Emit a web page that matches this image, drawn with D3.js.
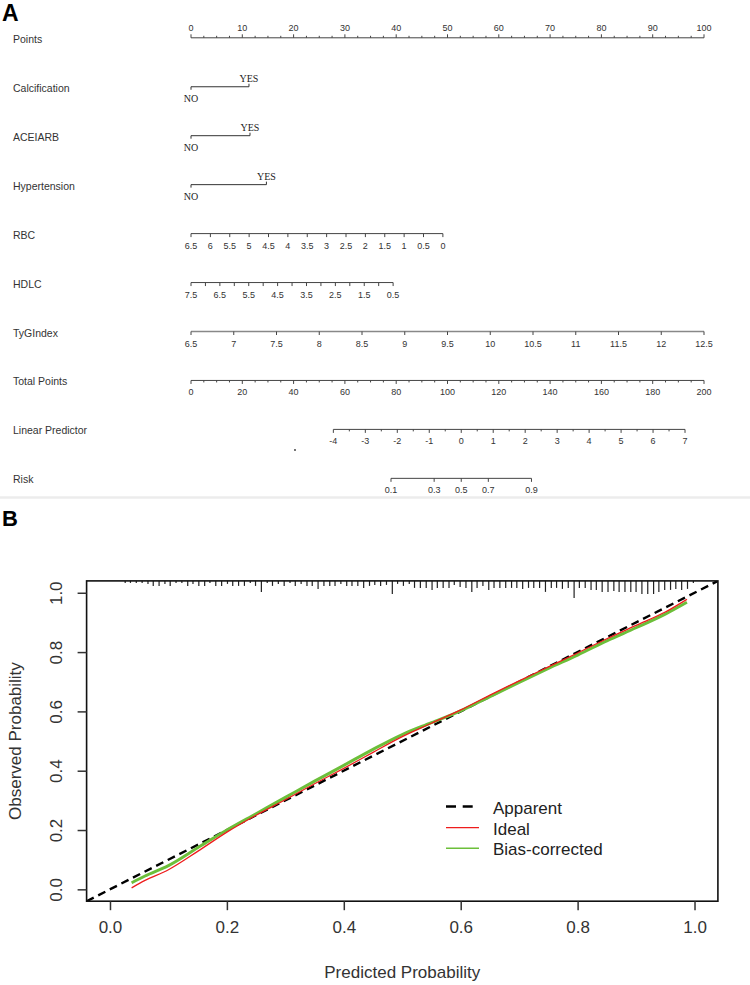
<!DOCTYPE html>
<html><head><meta charset="utf-8">
<script src="https://cdn.jsdelivr.net/npm/d3@7"></script>
<style>body{margin:0;background:#fff;} svg{display:block;font-family:"Liberation Sans",Arial,sans-serif;}</style>
</head><body><svg id="c" width="750" height="985"></svg>
<script>
// ---------------- DATA: Panel A (nomogram) ----------------
const rowNames = ["Points","Calcification","ACEIARB","Hypertension","RBC","HDLC","TyGIndex","Total Points","Linear Predictor","Risk"];
const pointsTicks = [0,10,20,30,40,50,60,70,80,90,100];
const pointsMinorTicks = [2.5,5,7.5,12.5,15,17.5,22.5,25,27.5,32.5,35,37.5,42.5,45,47.5,52.5,55,57.5,62.5,65,67.5,72.5,75,77.5,82.5,85,87.5,92.5,95,97.5];
const binaryVars = ["Calcification","ACEIARB","Hypertension"];
const binaryLevels = ["NO","YES"];
const binaryYesPoints = [11.3, 11.5, 14.7];
const rbcTicks = [6.5,6,5.5,5,4.5,4,3.5,3,2.5,2,1.5,1,0.5,0];
const rbcPoints = [0, 49.1];          // points at RBC 6.5 and 0
const hdlcTicks = [7.5,7,6.5,6,5.5,5,4.5,4,3.5,3,2.5,2,1.5,1,0.5];
const hdlcLabels = [7.5,6.5,5.5,4.5,3.5,2.5,1.5,0.5];
const hdlcPoints = [0, 39.4];         // points at HDLC 7.5 and 0.5
const tygTicks = [6.5,7,7.5,8,8.5,9,9.5,10,10.5,11,11.5,12,12.5];
const tygPoints = [0, 100];           // points at TyG 6.5 and 12.5
const totalTicks = [0,20,40,60,80,100,120,140,160,180,200];
const totalMinorTicks = [5,10,15,25,30,35,45,50,55,65,70,75,85,90,95,105,110,115,125,130,135,145,150,155,165,170,175,185,190,195];
const lpTicks = [-4,-3,-2,-1,0,1,2,3,4,5,6,7];
const lpMinorTicks = [-3.5,-2.5,-1.5,-0.5,0.5,1.5,2.5,3.5,4.5,5.5,6.5];
const lpTotalPoints = [55.5, 192.6];  // total points at LP -4 and 7
const riskTicks = [0.1,0.3,0.5,0.7,0.9];

// ---------------- DATA: Panel B (calibration) ----------------
const xTicksB = [0.0,0.2,0.4,0.6,0.8,1.0];
const yTicksB = [0.0,0.2,0.4,0.6,0.8,1.0];
const predProb = [0.037,0.06,0.10,0.15,0.20,0.25,0.30,0.35,0.40,0.45,0.50,0.55,0.60,0.65,0.70,0.75,0.80,0.85,0.90,0.95,0.987];
const idealObs = [0.005,0.030,0.066,0.128,0.193,0.250,0.302,0.356,0.408,0.462,0.515,0.560,0.605,0.655,0.703,0.750,0.797,0.845,0.890,0.935,0.978];
const biasObs  = [0.022,0.045,0.080,0.140,0.200,0.255,0.310,0.365,0.418,0.472,0.522,0.562,0.602,0.650,0.698,0.745,0.790,0.838,0.882,0.928,0.968];
const rugProb = [0.026,0.035,0.045,0.055,0.065,0.074,0.084,0.094,0.103,0.113,0.123,0.133,0.142,0.152,0.162,0.171,0.181,0.191,0.201,0.210,0.220,0.230,0.240,0.249,0.259,0.269,0.278,0.288,0.298,0.308,0.317,0.327,0.337,0.346,0.356,0.366,0.376,0.385,0.395,0.405,0.414,0.424,0.434,0.444,0.453,0.463,0.473,0.483,0.492,0.502,0.512,0.521,0.531,0.541,0.551,0.560,0.570,0.580,0.589,0.599,0.609,0.619,0.628,0.638,0.648,0.657,0.667,0.677,0.687,0.696,0.706,0.716,0.725,0.735,0.745,0.755,0.764,0.774,0.784,0.794,0.803,0.813,0.823,0.832,0.842,0.852,0.862,0.871,0.881,0.891,0.900,0.910,0.920,0.930,0.939,0.949,0.959,0.968,0.978,0.988,0.998];
const rugFreq = [2,2,2,2,3,5,5,3,5,2,2,5,3,5,5,2,5,5,3,5,5,5,2,5,11,2,5,3,5,2,5,3,5,5,8,5,5,5,3,5,5,5,7,5,4,5,4,13,3,5,3,7,7,7,9,7,7,7,4,6,7,11,7,5,9,7,7,7,7,7,8,7,7,7,11,7,7,8,7,17,7,7,9,9,11,11,10,11,11,11,11,13,13,13,11,9,9,8,9,8,2];
const legendLabels = ["Apparent","Ideal","Bias-corrected"];

// ---------------- DRAW ----------------
const svg = d3.select("#c");
const ink = "#333";

// panel letters
svg.append("text").attr("x",2).attr("y",21).attr("font-size",23).attr("font-weight","bold").attr("fill","#000").text("A");
svg.append("text").attr("x",2).attr("y",526).attr("font-size",22).attr("font-weight","bold").attr("fill","#000").text("B");
svg.append("line").attr("x1",0).attr("x2",750).attr("y1",497.5).attr("y2",497.5).attr("stroke","#ececec").attr("stroke-width",2.5);

// ---- Panel A ----
const xPts = d3.scaleLinear().domain([0,100]).range([191,704]);
const xTot = d3.scaleLinear().domain([0,200]).range([191,704]);
const rowY = i => 37.8 + i*48.95;
const gA = svg.append("g");

rowNames.forEach((n,i)=>{
  gA.append("text").attr("x",13).attr("y",rowY(i)+5).attr("font-size",10.5).attr("fill",ink).text(n);
});

function hAxis(y, scale, ticks, minor, labels, up, opts={}) {
  const g = gA.append("g");
  const xs = ticks.concat(minor||[]).map(scale);
  const x0 = d3.min(xs), x1 = d3.max(xs);
  g.append("line").attr("x1",x0).attr("x2",x1).attr("y1",y).attr("y2",y)
    .attr("stroke",opts.color||"#444").attr("stroke-width",opts.w||1);
  const dir = up ? -1 : 1;
  g.selectAll("line.t").data(ticks).join("line").attr("class","t")
    .attr("x1",d=>scale(d)).attr("x2",d=>scale(d)).attr("y1",y).attr("y2",y+dir*3.5)
    .attr("stroke","#444").attr("stroke-width",1);
  g.selectAll("line.m").data(minor||[]).join("line").attr("class","m")
    .attr("x1",d=>scale(d)).attr("x2",d=>scale(d)).attr("y1",y).attr("y2",y+dir*2)
    .attr("stroke","#444").attr("stroke-width",1);
  g.selectAll("text").data(labels).join("text")
    .attr("x",d=>scale(d)).attr("y",up ? y-6.5 : y+15)
    .attr("text-anchor","middle").attr("font-size",9).attr("fill",ink)
    .text(d=>String(d));
}

// Points
hAxis(rowY(0), xPts, pointsTicks, pointsMinorTicks, pointsTicks, true);

// binary variables
binaryVars.forEach((v,k)=>{
  const y = rowY(k+1);
  const xa = xPts(0), xb = xPts(binaryYesPoints[k]);
  gA.append("line").attr("x1",xa).attr("x2",xb).attr("y1",y).attr("y2",y).attr("stroke","#333");
  gA.append("line").attr("x1",xa).attr("x2",xa).attr("y1",y).attr("y2",y+3).attr("stroke","#333");
  gA.append("line").attr("x1",xb).attr("x2",xb).attr("y1",y).attr("y2",y-3).attr("stroke","#333");
  gA.append("text").attr("x",xa).attr("y",y+15.5).attr("text-anchor","middle")
    .attr("font-family","'Liberation Serif','Times New Roman',serif").attr("font-size",10).attr("fill","#222").text(binaryLevels[0]);
  gA.append("text").attr("x",xb).attr("y",y-4.5).attr("text-anchor","middle")
    .attr("font-family","'Liberation Serif','Times New Roman',serif").attr("font-size",10).attr("fill","#222").text(binaryLevels[1]);
});

// RBC
const xRBC = d3.scaleLinear().domain([6.5,0]).range(rbcPoints.map(xPts));
hAxis(rowY(4), xRBC, rbcTicks, [], rbcTicks, false);
// HDLC
const xHDL = d3.scaleLinear().domain([7.5,0.5]).range(hdlcPoints.map(xPts));
hAxis(rowY(5), xHDL, hdlcTicks, [], hdlcLabels, false);
// TyG
const xTyG = d3.scaleLinear().domain([6.5,12.5]).range(tygPoints.map(xPts));
hAxis(rowY(6), xTyG, tygTicks, [], tygTicks, false, {color:"#888", w:1.6});
// Total points
hAxis(rowY(7), xTot, totalTicks, totalMinorTicks, totalTicks, false);
// Linear predictor
const xLP = d3.scaleLinear().domain([-4,7]).range(lpTotalPoints.map(xTot));
hAxis(rowY(8), xLP, lpTicks, lpMinorTicks, lpTicks, false);
gA.append("circle").attr("cx",295).attr("cy",450).attr("r",0.9).attr("fill","#333");
// Risk (logit of risk on LP scale)
const xRisk = p => xLP(Math.log(p/(1-p)));
hAxis(rowY(9), xRisk, riskTicks, [], riskTicks, false);

// ---- Panel B ----
const xB = d3.scaleLinear().domain([-0.04,1.04]).range([86.6,717.9]);
const yB = d3.scaleLinear().domain([-0.04,1.04]).range([901.2,580.9]);
const gB = svg.append("g");
gB.append("defs").append("clipPath").attr("id","clipB").append("rect")
  .attr("x",xB(-0.04)).attr("y",yB(1.04)).attr("width",xB(1.04)-xB(-0.04)).attr("height",yB(-0.04)-yB(1.04));

// rug (distribution of predictions)
const rugLen = d3.scaleLinear().domain([0,17]).range([0,17]);
gB.selectAll("line.rug").data(rugProb).join("line").attr("class","rug")
  .attr("x1",d=>xB(d)).attr("x2",d=>xB(d))
  .attr("y1",yB(1.04)).attr("y2",(d,i)=>yB(1.04)+rugLen(rugFreq[i]))
  .attr("stroke","#222").attr("stroke-width",1.2);

const lineGen = d3.line().x(d=>xB(d[0])).y(d=>yB(d[1])).curve(d3.curveMonotoneX);
const cp = gB.append("g").attr("clip-path","url(#clipB)");
// apparent (dashed diagonal)
cp.append("line").attr("x1",xB(-0.04)).attr("y1",yB(-0.04)).attr("x2",xB(1.04)).attr("y2",yB(1.04))
  .attr("stroke","#000").attr("stroke-width",2.4).attr("stroke-dasharray","8,5");
cp.append("path").attr("d",lineGen(predProb.map((p,i)=>[p,biasObs[i]])))
  .attr("fill","none").attr("stroke","#6cbf3a").attr("stroke-width",3);
cp.append("path").attr("d",lineGen(predProb.map((p,i)=>[p,idealObs[i]])))
  .attr("fill","none").attr("stroke","#ee1c1c").attr("stroke-width",1.3);

// box
gB.append("rect").attr("x",xB(-0.04)).attr("y",yB(1.04)).attr("width",xB(1.04)-xB(-0.04)).attr("height",yB(-0.04)-yB(1.04))
  .attr("fill","none").attr("stroke","#111").attr("stroke-width",1.6);

// x axis
const gx = gB.append("g").attr("transform",`translate(0,${yB(-0.04)})`)
  .call(d3.axisBottom(xB).tickValues(xTicksB).tickFormat(d3.format(".1f")).tickSize(9).tickPadding(11).tickSizeOuter(0));
gx.select(".domain").remove();
gx.selectAll("line").attr("stroke","#333").attr("stroke-width",1.5);
gx.selectAll("text").attr("font-size",17).attr("fill",ink).attr("font-family","'Liberation Sans',Arial,sans-serif");

// y axis
const gy = gB.append("g").attr("transform",`translate(${xB(-0.04)},0)`)
  .call(d3.axisLeft(yB).tickValues(yTicksB).tickFormat(d3.format(".1f")).tickSize(9).tickSizeOuter(0));
gy.select(".domain").remove();
gy.selectAll("line").attr("stroke","#333").attr("stroke-width",1.5);
gy.selectAll("text").attr("font-size",17).attr("fill",ink).attr("font-family","'Liberation Sans',Arial,sans-serif")
  .attr("x",null).attr("dy",null).attr("text-anchor","middle")
  .attr("transform","translate(-25,0) rotate(-90)");

// axis titles
gB.append("text").attr("x",(xB(-0.04)+xB(1.04))/2).attr("y",978).attr("text-anchor","middle")
  .attr("font-size",17).attr("fill",ink).text("Predicted Probability");
gB.append("text").attr("transform",`translate(21,${(yB(-0.04)+yB(1.04))/2}) rotate(-90)`).attr("text-anchor","middle")
  .attr("font-size",17).attr("fill",ink).text("Observed Probability");

// legend
const legY = [806.5, 827.7, 848.3];
const legStroke = [{c:"#000",w:2.6,d:"10,6.7"},{c:"#ee1c1c",w:1.2,d:null},{c:"#6cbf3a",w:1.6,d:null}];
legendLabels.forEach((t,i)=>{
  gB.append("line").attr("x1",446).attr("x2",i===0?473.3:479).attr("y1",legY[i]).attr("y2",legY[i])
    .attr("stroke",legStroke[i].c).attr("stroke-width",legStroke[i].w).attr("stroke-dasharray",legStroke[i].d);
  gB.append("text").attr("x",493).attr("y",legY[i]+7).attr("font-size",17).attr("fill","#222").text(t);
});
</script></body></html>
